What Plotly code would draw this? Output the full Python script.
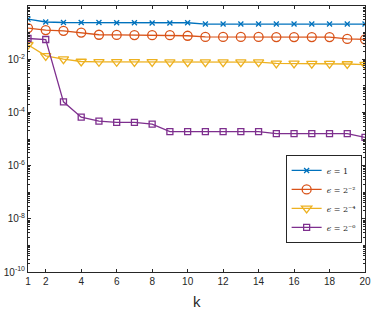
import plotly.graph_objects as go

k = list(range(1, 21))
eps_1 = [0.32, 0.25, 0.24, 0.24, 0.24, 0.235, 0.235, 0.23, 0.23, 0.235,
         0.21, 0.21, 0.21, 0.21, 0.21, 0.21, 0.21, 0.21, 0.21, 0.21]
eps_2m2 = [0.148, 0.124, 0.117, 0.10, 0.083, 0.082, 0.081, 0.080, 0.080, 0.076,
           0.069, 0.069, 0.069, 0.069, 0.068, 0.068, 0.068, 0.068, 0.058, 0.056]
eps_2m4 = [0.035, 0.0133, 0.010, 0.0082, 0.0080, 0.0080, 0.0079, 0.0079, 0.0078, 0.0078,
           0.0078, 0.0078, 0.0078, 0.0078, 0.0070, 0.0070, 0.0068, 0.0068, 0.0066, 0.0063]
eps_2m6 = [0.060, 0.055, 2.5e-4, 6.6e-5, 4.7e-5, 4.2e-5, 4.2e-5, 3.6e-5, 1.9e-5, 1.9e-5,
           1.9e-5, 1.9e-5, 1.9e-5, 1.9e-5, 1.6e-5, 1.6e-5, 1.6e-5, 1.6e-5, 1.6e-5, 1.15e-5]

series = [
    ("<i>ϵ</i> = 1", eps_1, "#0072BD", "x-thin", 5),
    ("<i>ϵ</i> = 2⁻²", eps_2m2, "#D95319", "circle-open", 9),
    ("<i>ϵ</i> = 2⁻⁴", eps_2m4, "#EDB120", "triangle-down-open", 9),
    ("<i>ϵ</i> = 2⁻⁶", eps_2m6, "#7E2F8E", "square-open", 6),
]

x_ticks = [1, 2, 4, 6, 8, 10, 12, 14, 16, 18, 20]
y_tickvals = [1, 1e-2, 1e-4, 1e-6, 1e-8, 1e-10]
y_ticktext = ["10<sup>0</sup>", "10<sup>-2</sup>", "10<sup>-4</sup>",
              "10<sup>-6</sup>", "10<sup>-8</sup>", "10<sup>-10</sup>"]

fig = go.Figure()
for name, vals, col, sym, sz in series:
    fig.add_trace(go.Scatter(
        x=k, y=vals, name=name, mode="lines+markers",
        line=dict(color=col, width=1.3),
        marker=dict(symbol=sym, size=sz, color=col, line=dict(color=col, width=1.3)),
    ))

axis_common = dict(
    showline=True, linecolor="#262626", linewidth=1, mirror="ticks",
    ticks="inside", ticklen=3, tickcolor="#262626", showgrid=False, zeroline=False,
    automargin=False,
    tickfont=dict(family="Liberation Sans, Arial", size=10, color="#262626"),
)

fig.update_layout(
    width=374, height=311,
    margin=dict(l=28, r=9, t=6, b=39),
    paper_bgcolor="white", plot_bgcolor="white",
    font=dict(family="Liberation Sans, Arial", color="#262626"),
    xaxis=dict(range=[1, 20], tickvals=x_ticks, **axis_common),
    yaxis=dict(type="log", range=[-10, 0], tickvals=y_tickvals, ticktext=y_ticktext,
               minor=dict(ticks="inside", ticklen=2, tickcolor="#262626", dtick="D1"),
               **axis_common),
    legend=dict(x=0.99, y=0.44, xanchor="right", yanchor="top",
                bgcolor="white", bordercolor="#262626", borderwidth=1,
                font=dict(family="DejaVu Serif, Liberation Serif", size=8),
                tracegroupgap=0, itemwidth=30),
    showlegend=True,
    annotations=[dict(text="k", x=0.5, y=0, xref="paper", yref="paper",
                      xanchor="center", yanchor="top", yshift=-19, showarrow=False,
                      font=dict(family="Liberation Sans, Arial", size=15, color="#262626"))],
)

fig.write_html("out.html", config={"displayModeBar": False},
               post_script="document.body.style.margin='0';document.body.style.padding='0';")
